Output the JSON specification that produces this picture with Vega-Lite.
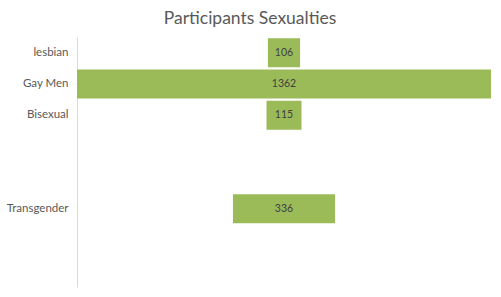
{
  "$schema": "https://vega.github.io/schema/vega-lite/v6.json",
  "width": 414,
  "height": 250,
  "autosize": {"type": "none"},
  "padding": {"left": 77, "top": 37, "right": 10, "bottom": 10},
  "title": {"text": "Participants Sexualties", "font": "Lato", "fontSize": 17.5, "fontWeight": "normal", "color": "#595959", "anchor": "middle", "dx": -34, "offset": 10},
  "data": {"values": [
    {"category": "lesbian", "count": 106},
    {"category": "Gay Men", "count": 1362},
    {"category": "Bisexual", "count": 115},
    {"category": "Transgender", "count": 336}
  ]},
  "encoding": {
    "y": {
      "field": "category", "type": "nominal", "sort": null,
      "scale": {"domain": ["lesbian", "Gay Men", "Bisexual", "blank1", "blank2", "Transgender", "blank3", "blank4"], "paddingInner": 0.07, "paddingOuter": 0.04},
      "axis": {"title": null, "ticks": false, "grid": false, "domainColor": "#d9d9d9", "domainWidth": 1, "labelFont": "Lato", "labelFontSize": 11.5, "labelColor": "#595959", "labelPadding": 9, "labelExpr": "indexof(datum.label, 'blank') === 0 ? '' : datum.label"}
    }
  },
  "layer": [
    {
      "mark": {"type": "bar", "color": "#9bbb59"},
      "encoding": {
        "x": {"field": "count", "type": "quantitative", "stack": "center", "scale": {"domain": [0, 1362], "nice": false}, "axis": null}
      }
    },
    {
      "mark": {"type": "text", "font": "Lato", "fontSize": 10.5, "color": "#404040"},
      "encoding": {
        "x": {"datum": 681, "type": "quantitative"},
        "text": {"field": "count", "type": "quantitative"}
      }
    }
  ],
  "config": {"view": {"stroke": null}}
}
